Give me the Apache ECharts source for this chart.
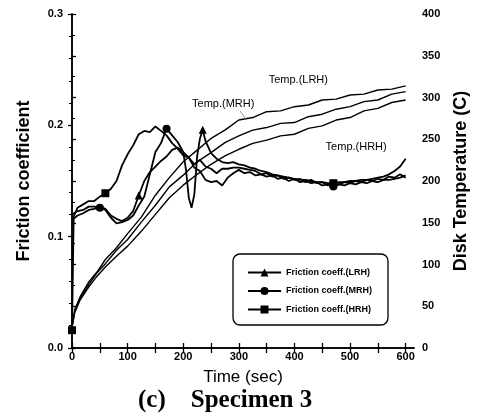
<!DOCTYPE html>
<html>
<head>
<meta charset="utf-8">
<script src="https://cdn.jsdelivr.net/npm/echarts@6/dist/echarts.min.js"></script>
<style>html,body{margin:0;padding:0;background:#fff}#c{width:478px;height:419px}</style>
</head>
<body>
<div id="c"></div>
<script>
// ---- data ----
var xTicks = [0, 100, 200, 300, 400, 500, 600];
var leftTicks = [0, 0.1, 0.2, 0.3];
var rightTicks = [0, 50, 100, 150, 200, 250, 300, 350, 400];

// temperature curves (right axis)
var tTemp = [0, 5, 15, 30, 45, 60, 80, 100, 125, 150, 175, 200, 225, 250, 275, 300, 325, 350, 375, 400, 425, 450, 475, 500, 525, 550, 575, 600];
var tempLRH = [25, 46, 62, 79, 91, 106, 120, 137, 157, 183, 204, 223, 237, 251, 261, 273, 276, 283, 284, 289, 291, 297, 298, 303, 304, 309, 310, 314];
var tempMRH = [25, 44, 60, 76, 90, 101, 117, 130, 151, 171, 193, 207, 223, 234, 246, 254, 261, 264, 269, 270, 277, 280, 286, 289, 295, 297, 304, 307];
var tempHRH = [25, 43, 58, 73, 86, 97, 110, 122, 140, 160, 180, 195, 208, 220, 230, 238, 245, 249, 254, 256, 263, 266, 273, 276, 284, 287, 294, 297];

// friction curves (left axis)
var tHRH = [0, 3, 10, 20, 30, 40, 50, 60, 70, 80, 90, 100, 110, 120, 130, 140, 150, 160, 170, 180, 190, 200, 210, 220, 230, 240, 250, 260, 270, 280, 290, 300,
  310, 320, 330, 340, 350, 360, 370, 380, 390, 400, 410, 420, 430, 440, 450, 460, 470, 480, 490, 500, 510, 520, 530, 540, 550, 560, 570, 580, 590, 600];
var fricHRH = [0.016, 0.118, 0.126, 0.129, 0.132, 0.132, 0.136, 0.139, 0.143, 0.150, 0.164, 0.174, 0.182, 0.192, 0.195, 0.194, 0.199, 0.195, 0.191, 0.184, 0.179, 0.173, 0.171, 0.165, 0.169, 0.163, 0.161, 0.157, 0.161, 0.161, 0.162, 0.162,
  0.161, 0.160, 0.159, 0.156, 0.157, 0.154, 0.155, 0.152, 0.153, 0.151, 0.152, 0.149, 0.151, 0.148, 0.149, 0.146, 0.148, 0.147, 0.149, 0.148, 0.150, 0.149, 0.151, 0.150, 0.152, 0.151, 0.154, 0.153, 0.156, 0.153];

var tMRH = [0, 10, 20, 30, 40, 50, 60, 70, 80, 90, 100, 110, 120, 130, 140, 150, 160, 170, 180, 190, 200, 210, 220, 230, 240, 250, 260, 270, 280, 290, 300,
  310, 320, 330, 340, 350, 360, 370, 380, 390, 400, 410, 420, 430, 440, 450, 460, 470, 480, 490, 500, 510, 520, 530, 540, 550, 560, 570, 580, 590, 600];
var fricMRH = [0.120, 0.123, 0.124, 0.127, 0.127, 0.126, 0.124, 0.117, 0.112, 0.113, 0.115, 0.119, 0.128, 0.136, 0.156, 0.176, 0.184, 0.197, 0.191, 0.185, 0.176, 0.171, 0.162, 0.159, 0.151, 0.149, 0.150, 0.146, 0.153, 0.157, 0.160,
  0.157, 0.158, 0.155, 0.156, 0.154, 0.155, 0.152, 0.153, 0.150, 0.152, 0.149, 0.150, 0.148, 0.149, 0.146, 0.147, 0.145, 0.147, 0.146, 0.148, 0.147, 0.149, 0.148, 0.150, 0.149, 0.151, 0.151, 0.152, 0.153, 0.155];

var tLRH = [0, 10, 20, 30, 40, 50, 60, 70, 80, 90, 100, 110, 120, 130, 140, 150, 160, 170, 180, 190, 200, 205, 210, 215, 220, 225, 230, 235, 240, 250, 260, 270, 280, 290, 300,
  310, 320, 330, 340, 350, 360, 370, 380, 390, 400, 410, 420, 430, 440, 450, 460, 470, 480, 490, 500, 510, 520, 530, 540, 550, 560, 570, 580, 590, 600];
var fricLRH = [0.115, 0.119, 0.121, 0.124, 0.125, 0.127, 0.125, 0.119, 0.116, 0.114, 0.117, 0.123, 0.137, 0.150, 0.158, 0.163, 0.168, 0.172, 0.178, 0.180, 0.176, 0.160, 0.135, 0.126, 0.138, 0.172, 0.188, 0.196, 0.186, 0.175, 0.170, 0.167, 0.166, 0.167, 0.165,
  0.164, 0.162, 0.161, 0.159, 0.158, 0.156, 0.155, 0.154, 0.153, 0.152, 0.151, 0.151, 0.150, 0.149, 0.149, 0.148, 0.148, 0.149, 0.149, 0.150, 0.150, 0.151, 0.151, 0.152, 0.153, 0.154, 0.156, 0.159, 0.163, 0.170];

var markHRH = [0, 7, 48];
var markMRH = [5, 17, 47];
var markLRH = [12, 27, 51];

// annotation texts and their anchor points [time, temperature]
var tempLabels = ['Temp.(LRH)', 'Temp.(MRH)', 'Temp.(HRH)'];
var tempLabelAt = [[407, 321], [272, 292], [511, 241]];
var mrhLeader = [[302, 284], [313, 274]];

function pairs(t, v) { return t.map(function (x, i) { return [x, v[i]]; }); }
function sizer(marks) { return function (val, p) { return marks.indexOf(p.dataIndex) >= 0 ? 8 : 0; }; }

var chart = echarts.init(document.getElementById('c'), null, { renderer: 'canvas' });
var font = 'Liberation Sans, Arial, sans-serif';
var axisLineStyle = { color: '#000', width: 1.5 };

function fricSeries(name, t, v, sym, marks) {
  return {
    name: name, type: 'line', xAxisIndex: 0, yAxisIndex: 0,
    data: pairs(t, v), symbol: sym, symbolSize: sizer(marks), showAllSymbol: true,
    lineStyle: { color: '#000', width: 1.8 }, itemStyle: { color: '#000' },
    animation: false, z: 3
  };
}
function tempSeries(name, v, extra) {
  var s = {
    name: name, type: 'line', xAxisIndex: 0, yAxisIndex: 1,
    data: pairs(tTemp, v), symbol: 'none',
    lineStyle: { color: '#000', width: 1.4 }, animation: false, z: 2
  };
  for (var k in extra) s[k] = extra[k];
  return s;
}
function tempLabel(i) {
  return {
    symbol: 'circle', symbolSize: 2, silent: true, animation: false,
    itemStyle: { color: 'rgba(0,0,0,0)' },
    label: { show: true, position: 'inside', formatter: tempLabels[i], color: '#000', fontSize: 11, fontFamily: font },
    data: [{ coord: tempLabelAt[i], value: 0 }]
  };
}

var option = {
  backgroundColor: '#fff',
  animation: false,
  grid: { left: 72, right: 64, top: 14, bottom: 71 },
  legend: {
    data: ['Friction coeff.(LRH)', 'Friction coeff.(MRH)', 'Friction coeff.(HRH)'],
    orient: 'vertical', left: 233, top: 254,
    itemWidth: 33, itemHeight: 10, itemGap: 9.5,
    padding: [14, 16, 11, 14],
    borderColor: '#000', borderWidth: 1.3, borderRadius: 7,
    textStyle: { fontSize: 9, fontWeight: 'bold', fontFamily: font, color: '#000' }
  },
  graphic: [{
    type: 'text', left: 138, top: 388,
    style: { text: '(c)    Specimen 3', font: 'bold 25px "Liberation Serif", "Times New Roman", serif', fill: '#000' }
  }],
  xAxis: [{
    type: 'value', min: 0, max: 615, interval: 100, position: 'bottom',
    name: 'Time (sec)', nameLocation: 'middle', nameGap: 21,
    nameTextStyle: { fontSize: 17, fontFamily: font, color: '#000' },
    axisLine: { show: true, lineStyle: axisLineStyle },
    axisTick: { show: true, inside: true, length: 5, customValues: [0, 50, 100, 150, 200, 250, 300, 350, 400, 450, 500, 550, 600], lineStyle: { color: '#000', width: 1.3 } },
    axisLabel: { customValues: xTicks, margin: 3, fontSize: 11, fontWeight: 'bold', fontFamily: font, color: '#000' },
    splitLine: { show: false }
  }, {
    type: 'value', min: 0, max: 615, interval: 100, position: 'top',
    axisLine: { show: true, lineStyle: axisLineStyle },
    axisTick: { show: true, inside: true, length: 5, customValues: [0, 50, 100, 150, 200, 250, 300, 350, 400, 450, 500, 550, 600], lineStyle: { color: '#000', width: 1.3 } },
    axisLabel: { show: false }, splitLine: { show: false }
  }],
  yAxis: [{
    type: 'value', min: 0, max: 0.3, interval: 0.1, position: 'left',
    name: 'Friction coefficient', nameLocation: 'middle', nameRotate: 90, nameGap: 39,
    nameTextStyle: { fontSize: 18, fontWeight: 'bold', fontFamily: font, color: '#000' },
    axisLine: { show: true, lineStyle: axisLineStyle },
    axisTick: { show: true, inside: false, length: 4, lineStyle: { color: '#000', width: 1.3 } },
    minorTick: { show: true, splitNumber: 5, length: 3, lineStyle: { color: '#000', width: 1 } },
    axisLabel: { customValues: leftTicks, formatter: function (v) { return v.toFixed(1); }, margin: 9, fontSize: 11, fontWeight: 'bold', fontFamily: font, color: '#000' },
    splitLine: { show: false }
  }, {
    type: 'value', min: 0, max: 400, interval: 50, position: 'right',
    name: 'Disk Temperature (C)', nameLocation: 'middle', nameRotate: 90, nameGap: 38,
    nameTextStyle: { fontSize: 18, fontWeight: 'bold', fontFamily: font, color: '#000' },
    axisLine: { show: true, lineStyle: axisLineStyle },
    axisTick: { show: true, inside: false, length: 4, lineStyle: { color: '#000', width: 1.3 } },
    minorTick: { show: true, splitNumber: 2, length: 3, lineStyle: { color: '#000', width: 1 } },
    axisLabel: { customValues: rightTicks, margin: 8, fontSize: 11, fontWeight: 'bold', fontFamily: font, color: '#000' },
    splitLine: { show: false }
  }],
  series: [
    fricSeries('Friction coeff.(LRH)', tLRH, fricLRH, 'triangle', markLRH),
    fricSeries('Friction coeff.(MRH)', tMRH, fricMRH, 'circle', markMRH),
    fricSeries('Friction coeff.(HRH)', tHRH, fricHRH, 'rect', markHRH),
    tempSeries('Temp.(LRH)', tempLRH, { markPoint: tempLabel(0) }),
    tempSeries('Temp.(MRH)', tempMRH, {
      markPoint: tempLabel(1),
      markLine: { symbol: 'none', silent: true, animation: false, label: { show: false }, lineStyle: { color: '#777', width: 0.8, type: 'solid' },
        data: [[{ coord: mrhLeader[0] }, { coord: mrhLeader[1] }]] }
    }),
    tempSeries('Temp.(HRH)', tempHRH, { markPoint: tempLabel(2) })
  ]
};
chart.setOption(option);
</script>
</body>
</html>
